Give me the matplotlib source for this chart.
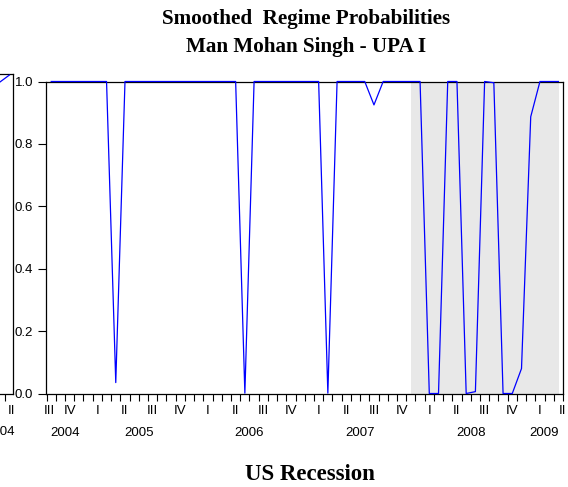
import matplotlib
matplotlib.use("Agg")
import matplotlib.pyplot as plt
import numpy as np
import pandas as pd

# ---------------- data ----------------
start_month = "2004-09"
n_months = 56
prob = [1.0, 1.0, 1.0, 1.0, 1.0, 1.0, 1.0, 0.035, 1.0, 1.0,
        1.0, 1.0, 1.0, 1.0, 1.0, 1.0, 1.0, 1.0, 1.0, 1.0,
        1.0, 0.001, 1.0, 1.0, 1.0, 1.0, 1.0, 1.0, 1.0, 1.0,
        0.001, 1.0, 1.0, 1.0, 1.0, 0.925, 1.0, 1.0, 1.0, 1.0,
        1.0, 0.0, 0.0, 1.0, 1.0, 0.0, 0.006, 1.0, 0.996, 0.0,
        0.0, 0.08, 0.887, 1.0, 1.0, 1.0]
recession_start = "2007-12"
quarter_names = ["I", "II", "III", "IV"]
y_ticks = [0.0, 0.2, 0.4, 0.6, 0.8, 1.0]
y_ticklabels = ["0.0", "0.2", "0.4", "0.6", "0.8", "1.0"]
title_lines = ["Smoothed  Regime Probabilities", "Man Mohan Singh - UPA I"]
xlabel = "US Recession"

# neighbouring (cut-off) panel
left_vals = [1.0, 1.022]
left_quarter_label = "II"
left_year_label = "2004"

# ---------------- figure ----------------
W, H = 568, 487
fig = plt.figure(figsize=(W / 100, H / 100), dpi=100)
fig.patch.set_facecolor("white")

def px_axes(left, right, top, bottom):
    return fig.add_axes([left / W, (H - bottom) / H, (right - left) / W, (bottom - top) / H])

tick_font = dict(family="Liberation Sans", size=9.5)
title_font = dict(family="Liberation Serif", weight="bold", size=15.2)
xlabel_font = dict(family="Liberation Serif", weight="bold", size=16.5)

months = pd.period_range(start_month, periods=n_months, freq="M")
x = np.arange(n_months)

XL, XR = -0.62, 55.1
ax = px_axes(45.5, 563.0, 81.5, 393.5)
ax.set_xlim(XL, XR)
ax.set_ylim(0, 1)

# recession shading
rec_idx = list(months).index(pd.Period(recession_start, freq="M"))
ax.axvspan(rec_idx, XR, color="#e8e8e8", lw=0, zorder=0)

ax.plot(x, prob, color="#0000ff", lw=0.9, zorder=5, clip_on=False)

for s in ax.spines.values():
    s.set_color("black")
    s.set_linewidth(0.9)

ax.set_yticks(y_ticks)
ax.set_yticklabels(y_ticklabels, fontdict=tick_font)
ax.tick_params(axis="y", direction="out", length=6, width=0.8, pad=3)

# month boundary ticks
ax.set_xticks(np.arange(-0.5, n_months, 1.0))
ax.set_xticklabels([])
ax.tick_params(axis="x", direction="out", length=5, width=0.8)

# quarter labels (middle month of quarter)
trans = ax.get_xaxis_transform()
qs = pd.period_range(months[0].asfreq("Q"), months[-1].asfreq("Q"), freq="Q")
for q in qs:
    mid = q.asfreq("M", how="start") + 1
    pos = (mid - months[0]).n
    pos = float(np.clip(pos, -0.2, 55.4))
    ax.text(pos, -0.056, quarter_names[q.quarter - 1], transform=trans,
            ha="center", va="center", fontdict=tick_font, clip_on=False)

# year labels centred on visible part of each year
years = sorted(set(m.year for m in months))
for yv in years:
    idx = [i for i, m in enumerate(months) if m.year == yv]
    pos = (idx[0] + idx[-1]) / 2
    ax.text(pos, -0.125, str(yv), transform=trans, ha="center", va="center",
            fontdict=tick_font, clip_on=False)

# ---------------- cut-off left panel ----------------
axl = px_axes(-87.0, 12.7, 74.0, 394.0)
axl.set_xlim(-10.35, 0.366)
axl.set_ylim(0, 1.0256)
axl.plot([-1, 0], left_vals, color="#0000ff", lw=0.9, zorder=5)
for s in axl.spines.values():
    s.set_color("black")
    s.set_linewidth(0.9)
axl.set_yticks([])
axl.set_xticks([-0.5])
axl.set_xticklabels([])
axl.tick_params(axis="x", direction="out", length=5, width=0.8)
ltrans = axl.get_xaxis_transform()
axl.text(0.26, -0.053, left_quarter_label, transform=ltrans, ha="center", va="center",
         fontdict=tick_font, clip_on=False)
axl.text(-0.95, -0.12, left_year_label, transform=ltrans, ha="center", va="center",
         fontdict=tick_font, clip_on=False)

# ---------------- titles ----------------
fig.text(306 / W, 1 - 19 / H, title_lines[0], ha="center", va="center", fontdict=title_font)
fig.text(306 / W, 1 - 47 / H, title_lines[1], ha="center", va="center", fontdict=title_font)
fig.text(310 / W, 1 - 475 / H, xlabel, ha="center", va="center", fontdict=xlabel_font)

fig.savefig("out.png", dpi=100)
